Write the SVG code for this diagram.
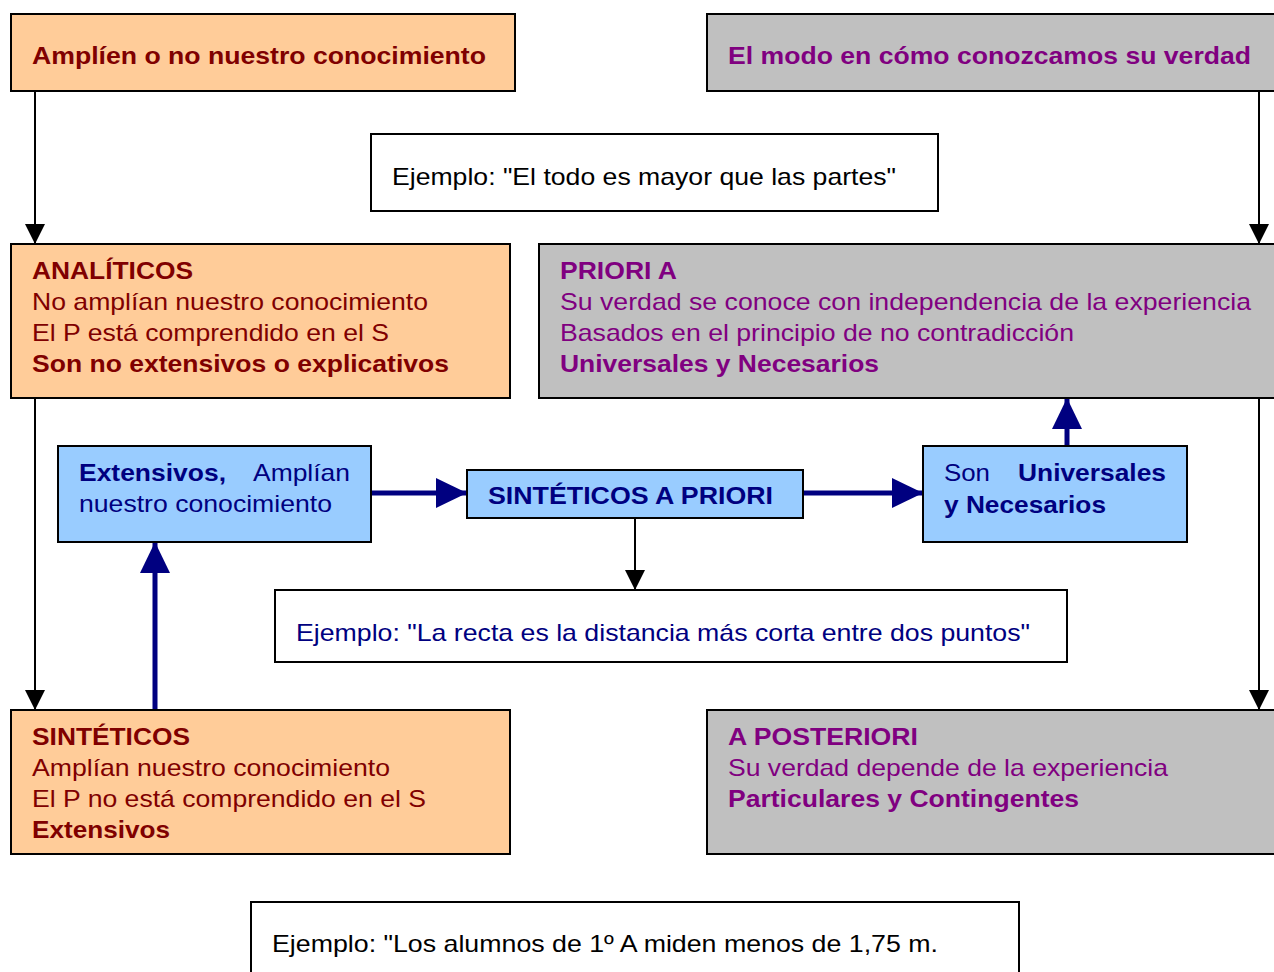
<svg xmlns="http://www.w3.org/2000/svg" width="1274" height="972" viewBox="0 0 1274 972">
<style>
text{font-family:"Liberation Sans",Arial,sans-serif;font-size:24px}
.b{font-weight:bold}
.box{stroke:#000;stroke-width:2}
.or{fill:#FFCC99}.gr{fill:#C0C0C0}.bl{fill:#99CCFF}.wh{fill:#fff}
.red{fill:#800000}.pur{fill:#800080}.navy{fill:#000080}.blk{fill:#000}
.thin{stroke:#000;stroke-width:2;fill:none}
.thick{stroke:#000080;stroke-width:5;fill:none}
</style>
<defs>
<marker id="ab" markerUnits="userSpaceOnUse" markerWidth="22" markerHeight="22" viewBox="0 0 22 22" refX="20" refY="11" orient="auto"><path d="M0,1 L20,11 L0,21Z" fill="#000"/></marker>
<marker id="an" markerUnits="userSpaceOnUse" markerWidth="34" markerHeight="34" viewBox="0 0 34 34" refX="31" refY="17" orient="auto"><path d="M0,2 L31,17 L0,32Z" fill="#000080"/></marker>
</defs>
<rect width="1274" height="972" fill="#fff"/>
<g id="connectors">
<line class="thin" x1="35" y1="91" x2="35" y2="244" marker-end="url(#ab)"/>
<line class="thin" x1="35" y1="398" x2="35" y2="710" marker-end="url(#ab)"/>
<line class="thin" x1="1259" y1="91" x2="1259" y2="244" marker-end="url(#ab)"/>
<line class="thin" x1="1259" y1="398" x2="1259" y2="710" marker-end="url(#ab)"/>
<line class="thin" x1="635" y1="518" x2="635" y2="590" marker-end="url(#ab)"/>
<line class="thick" x1="371" y1="493" x2="467" y2="493" marker-end="url(#an)"/>
<line class="thick" x1="803" y1="493" x2="923" y2="493" marker-end="url(#an)"/>
<line class="thick" x1="155" y1="710" x2="155" y2="542" marker-end="url(#an)"/>
<line class="thick" x1="1067" y1="446" x2="1067" y2="398" marker-end="url(#an)"/>
</g>
<g id="n1"><rect class="box or" x="11" y="14" width="504" height="77"/>
<text class="b red" x="32" y="64" textLength="454" lengthAdjust="spacingAndGlyphs">Amplíen o no nuestro conocimiento</text></g>
<g id="n2"><rect class="box gr" x="707" y="14" width="580" height="77"/>
<text class="b pur" x="728" y="64" textLength="523" lengthAdjust="spacingAndGlyphs">El modo en cómo conozcamos su verdad</text></g>
<g id="n3"><rect class="box wh" x="371" y="134" width="567" height="77"/>
<text class="blk" x="392" y="185" textLength="504" lengthAdjust="spacingAndGlyphs">Ejemplo: "El todo es mayor que las partes"</text></g>
<g id="n4"><rect class="box or" x="11" y="244" width="499" height="154"/>
<text class="red"><tspan class="b" x="32" y="279" textLength="161" lengthAdjust="spacingAndGlyphs">ANALÍTICOS</tspan></text>
<text class="red" x="32" y="310" textLength="396" lengthAdjust="spacingAndGlyphs">No amplían nuestro conocimiento</text>
<text class="red" x="32" y="341" textLength="357" lengthAdjust="spacingAndGlyphs">El P está comprendido en el S</text>
<text class="red b" x="32" y="372" textLength="417" lengthAdjust="spacingAndGlyphs">Son no extensivos o explicativos</text></g>
<g id="n5"><rect class="box gr" x="539" y="244" width="748" height="154"/>
<text class="pur b" x="560" y="279" textLength="117" lengthAdjust="spacingAndGlyphs">PRIORI A</text>
<text class="pur" x="560" y="310" textLength="691" lengthAdjust="spacingAndGlyphs">Su verdad se conoce con independencia de la experiencia</text>
<text class="pur" x="560" y="341" textLength="514" lengthAdjust="spacingAndGlyphs">Basados en el principio de no contradicción</text>
<text class="pur b" x="560" y="372" textLength="319" lengthAdjust="spacingAndGlyphs">Universales y Necesarios</text></g>
<g id="n6"><rect class="box bl" x="58" y="446" width="313" height="96"/>
<text class="navy b" x="79" y="481" textLength="147" lengthAdjust="spacingAndGlyphs">Extensivos,</text>
<text class="navy" x="253" y="481" textLength="97" lengthAdjust="spacingAndGlyphs">Amplían</text>
<text class="navy" x="79" y="512" textLength="253" lengthAdjust="spacingAndGlyphs">nuestro conocimiento</text></g>
<g id="n7"><rect class="box bl" x="467" y="470" width="336" height="48"/>
<text class="b navy" x="488" y="504" textLength="285" lengthAdjust="spacingAndGlyphs">SINTÉTICOS A PRIORI</text></g>
<g id="n8"><rect class="box bl" x="923" y="446" width="264" height="96"/>
<text class="navy" x="944" y="481" textLength="46" lengthAdjust="spacingAndGlyphs">Son</text>
<text class="navy b" x="1018" y="481" textLength="148" lengthAdjust="spacingAndGlyphs">Universales</text>
<text class="navy b" x="944" y="513" textLength="162" lengthAdjust="spacingAndGlyphs">y Necesarios</text></g>
<g id="n9"><rect class="box wh" x="275" y="590" width="792" height="72"/>
<text class="navy" x="296" y="641" textLength="734" lengthAdjust="spacingAndGlyphs">Ejemplo: "La recta es la distancia más corta entre dos puntos"</text></g>
<g id="n10"><rect class="box or" x="11" y="710" width="499" height="144"/>
<text class="red b" x="32" y="745" textLength="158" lengthAdjust="spacingAndGlyphs">SINTÉTICOS</text>
<text class="red" x="32" y="776" textLength="358" lengthAdjust="spacingAndGlyphs">Amplían nuestro conocimiento</text>
<text class="red" x="32" y="807" textLength="394" lengthAdjust="spacingAndGlyphs">El P no está comprendido en el S</text>
<text class="red b" x="32" y="838" textLength="138" lengthAdjust="spacingAndGlyphs">Extensivos</text></g>
<g id="n11"><rect class="box gr" x="707" y="710" width="580" height="144"/>
<text class="pur b" x="728" y="745" textLength="190" lengthAdjust="spacingAndGlyphs">A POSTERIORI</text>
<text class="pur" x="728" y="776" textLength="440" lengthAdjust="spacingAndGlyphs">Su verdad depende de la experiencia</text>
<text class="pur b" x="728" y="807" textLength="351" lengthAdjust="spacingAndGlyphs">Particulares y Contingentes</text></g>
<g id="n12"><rect class="box wh" x="251" y="902" width="768" height="90"/>
<text class="blk" x="272" y="952" textLength="666" lengthAdjust="spacingAndGlyphs">Ejemplo: "Los alumnos de 1º A miden menos de 1,75 m.</text></g>
</svg>
